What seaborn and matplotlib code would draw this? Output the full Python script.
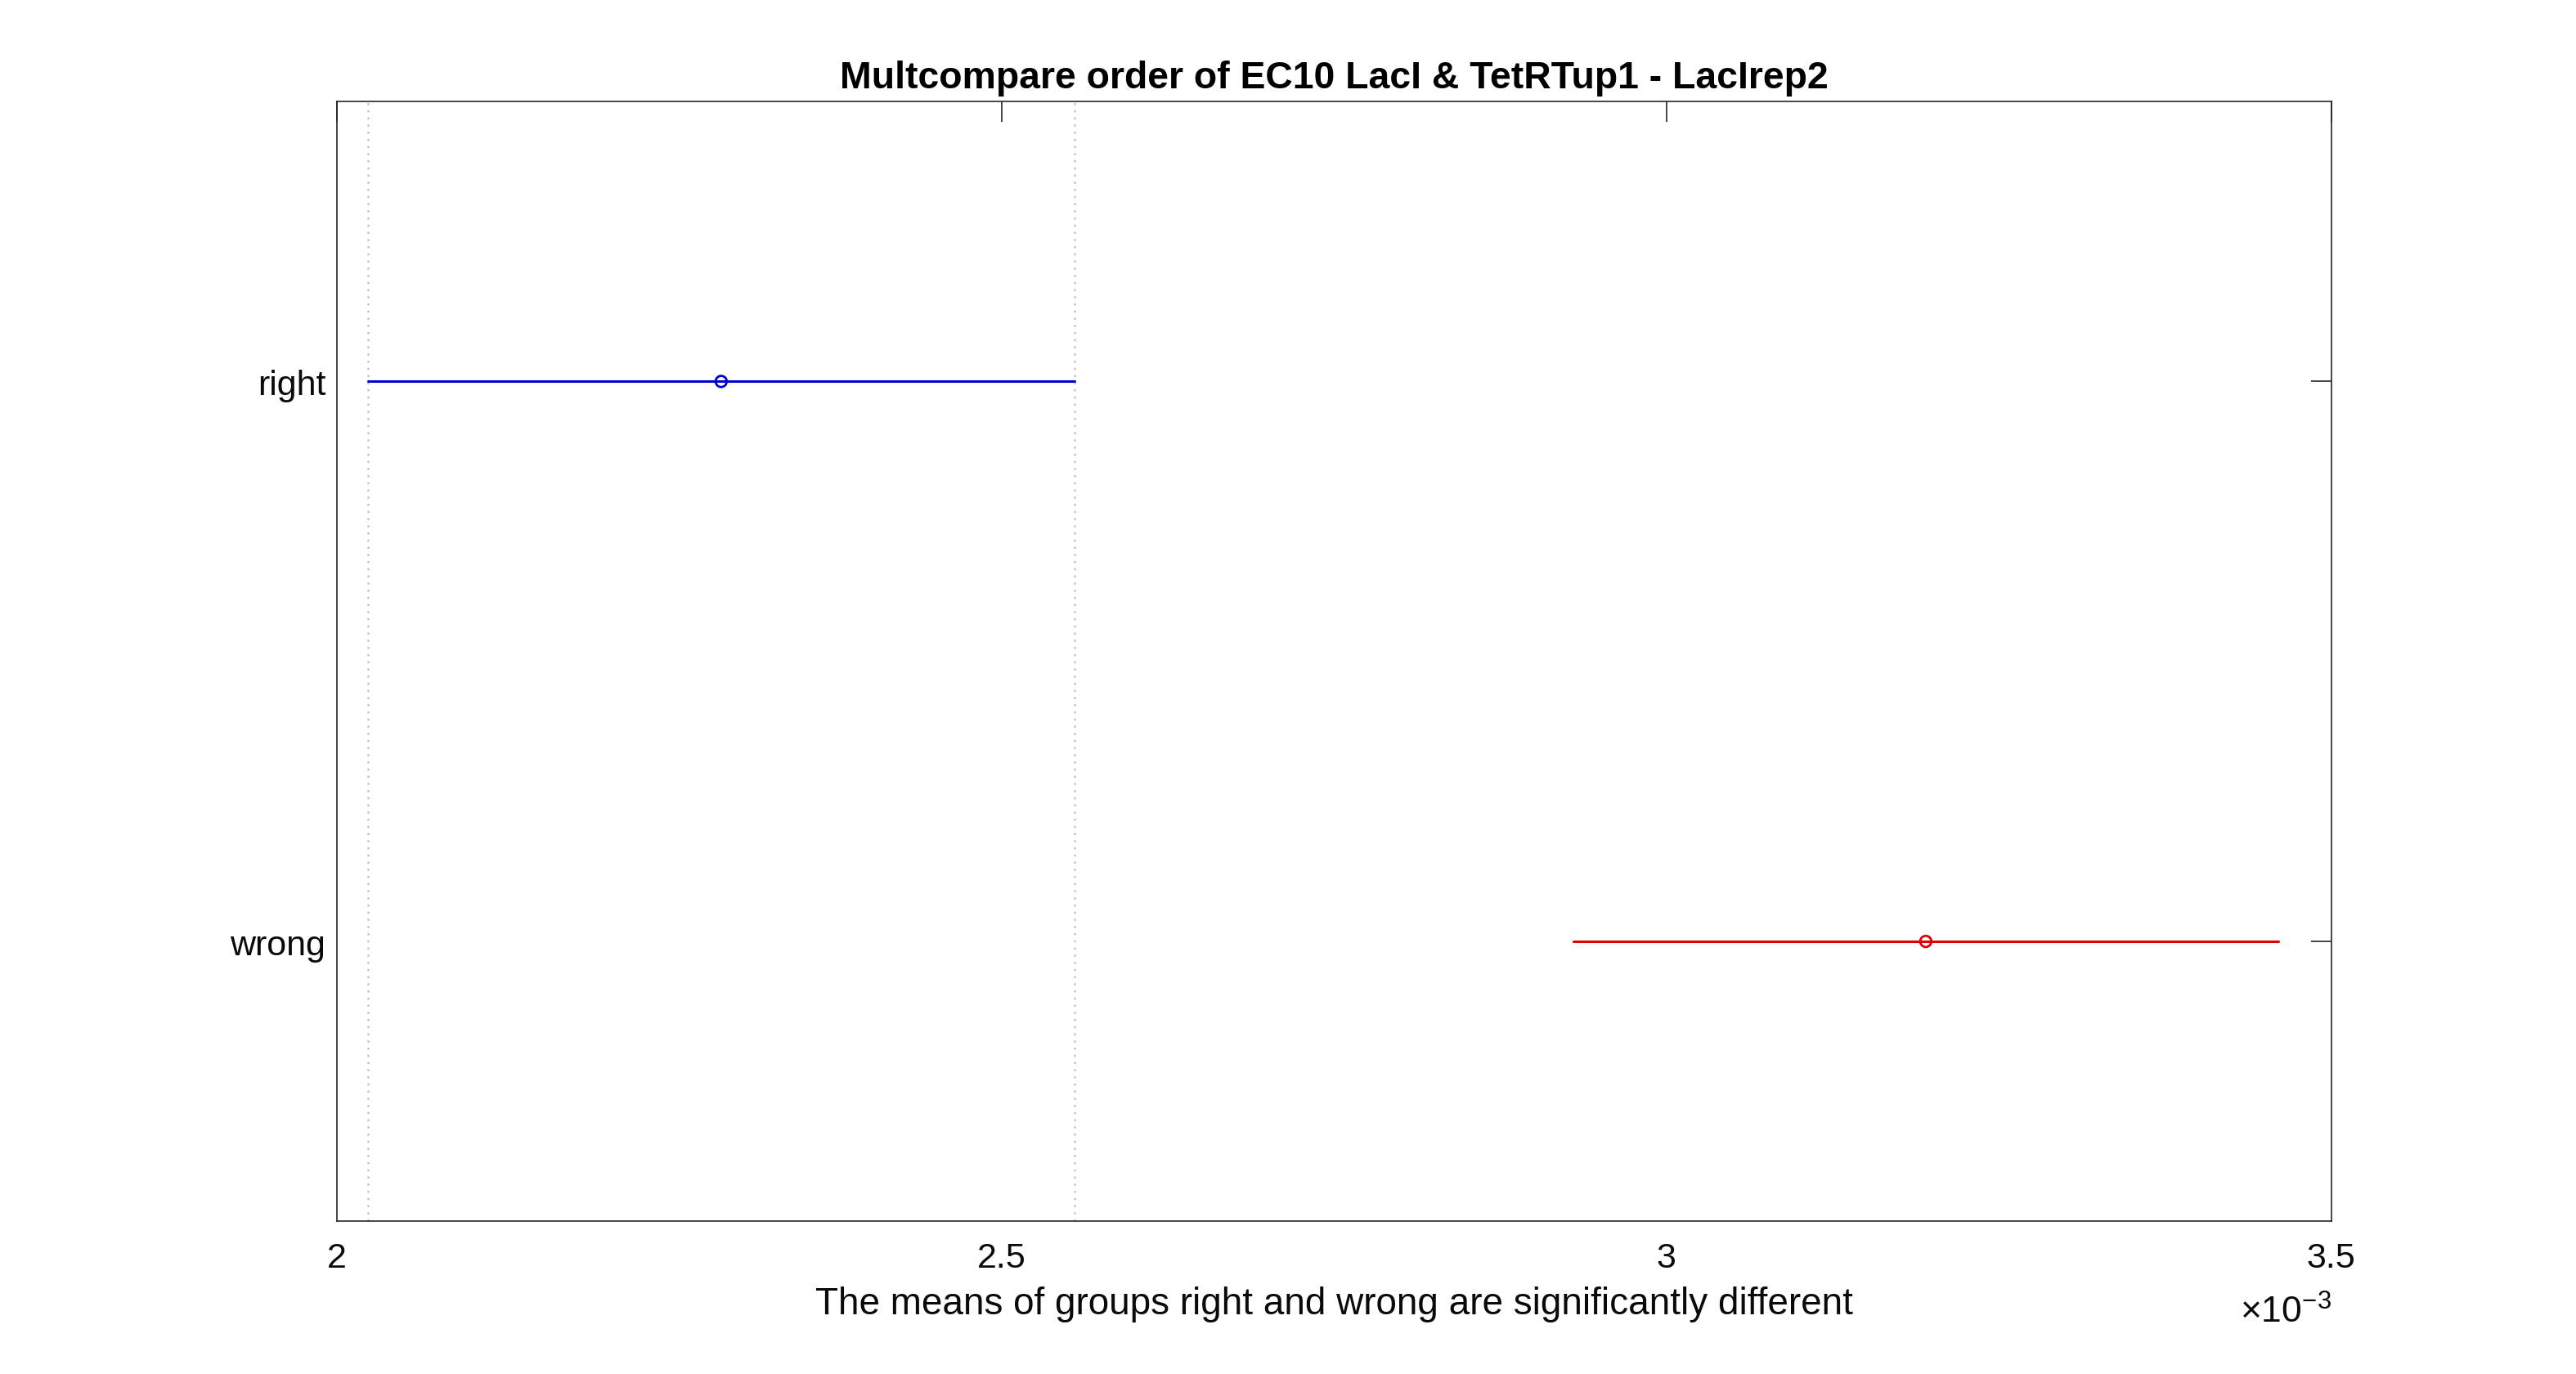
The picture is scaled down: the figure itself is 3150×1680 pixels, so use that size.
import numpy as np
import pandas as pd
import matplotlib
matplotlib.use("Agg")
import matplotlib.pyplot as plt
from matplotlib.ticker import FuncFormatter
import seaborn as sns

# ---- data ----
groups = ["right", "wrong"]
means = [2.289e-3, 3.195e-3]
half_widths = [0.2657e-3, 0.2650e-3]
colors = ["#0000CC", "#DD0000"]
x_ticks = [2.0e-3, 2.5e-3, 3.0e-3, 3.5e-3]
title = "Multcompare order of EC10 LacI & TetRTup1 - LacIrep2"
xlabel = "The means of groups right and wrong are significantly different"

sns.set_theme(style="white")
plt.rcParams["font.family"] = ["Liberation Sans", "DejaVu Sans"]
plt.rcParams["mathtext.fontset"] = "custom"
plt.rcParams["mathtext.rm"] = "Liberation Sans"

df = pd.DataFrame({
    "group": groups,
    "pos": np.arange(1, len(groups) + 1),
    "mean": means,
    "lo": np.array(means) - np.array(half_widths),
    "hi": np.array(means) + np.array(half_widths),
})

fig = plt.figure(figsize=(15.75, 8.405), dpi=200)
ax = fig.add_axes([0.1308, 0.111, 0.7742, 0.8146])

# reference lines at the interval of the first group
for v in (df.loc[0, "lo"], df.loc[0, "hi"]):
    ax.axvline(v, color="#C4C4C4", linestyle=(0, (1, 2.5)), linewidth=0.9, zorder=0)

# interval lines
for _, r in df.iterrows():
    sns.lineplot(x=[r["lo"], r["hi"]], y=[r["pos"], r["pos"]], ax=ax,
                 color=colors[int(r["pos"]) - 1], linewidth=1.1, legend=False,
                 estimator=None, sort=False)

# mean markers (open circles)
sns.scatterplot(data=df, x="mean", y="pos", hue="group", palette=colors,
                s=24, marker="o", ax=ax, legend=False, zorder=5, linewidth=1.0)
coll = ax.collections[-1]
fc = coll.get_facecolors()
coll.set_edgecolors(fc)
coll.set_facecolors("none")

ax.set_xlim(2.0e-3, 3.5e-3)
ax.set_ylim(2.5, 0.5)
ax.set_xticks(x_ticks)
ax.xaxis.set_major_formatter(FuncFormatter(lambda v, p: f"{v*1e3:g}"))
ax.set_yticks(df["pos"])
ax.set_yticklabels(groups)

ax.tick_params(axis="both", which="major", direction="in", length=9, width=0.6,
               colors="#262626", labelsize=15.5, top=True, right=True,
               labelcolor="#0A0A0A")
ax.tick_params(axis="y", pad=5)
ax.tick_params(axis="x", pad=9)
for s in ax.spines.values():
    s.set_visible(True)
    s.set_color("#262626")
    s.set_linewidth(0.6)
ax.grid(False)

ax.set_title(title, fontsize=16.7, fontweight="bold", pad=6, color="black")
ax.set_xlabel(xlabel, fontsize=16.5, color="#0A0A0A", labelpad=5)
ax.set_ylabel("")
ax.text(1.0, -0.065, r"$\times10^{-3}$", transform=ax.transAxes, ha="right",
        va="top", fontsize=16, color="#0A0A0A")

fig.savefig("out.png", dpi=200, facecolor="white")
